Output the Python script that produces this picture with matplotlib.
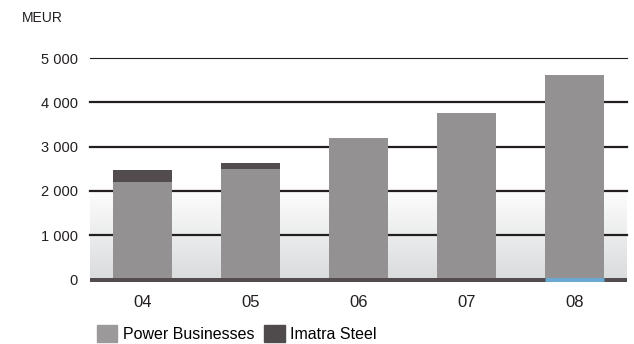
import matplotlib.pyplot as plt
import numpy as np
from matplotlib.patches import Patch
from matplotlib.colors import LinearSegmentedColormap

years = ['04', '05', '06', '07', '08']
power = [2205, 2500, 3200, 3767, 4627]
steel = [265, 136, 0, 0, 0]
yticks = [0, 1000, 2000, 3000, 4000, 5000]

c_power = '#939192'
c_steel = '#524c4e'
c_grid = '#231f20'
c_blue = '#6aa9d0'

plt.rcParams['font.family'] = ['Liberation Sans', 'DejaVu Sans']

fig = plt.figure(figsize=(6.34, 3.44), dpi=100)
ax = fig.add_axes([0.142, 0.1797, 0.847, 0.658])
x = np.arange(len(years))
w = 0.546
ax.set_xlim(-0.486, 4.486)
ax.set_ylim(-60, 5050)

# light grey gradient behind the lower part
grad = np.linspace(0, 1, 100).reshape(-1, 1)
cm = LinearSegmentedColormap.from_list('g', ['#dadbdd', '#ffffff'])
ax.imshow(grad, extent=(-0.486, 4.486, 0, 2130), origin='lower', aspect='auto',
          cmap=cm, zorder=0)

for v in yticks[1:]:
    ax.axhline(v, color=c_grid, lw=0.8 if v == 5000 else 1.6, zorder=1, clip_on=False)

ax.bar(x, power, width=w, color=c_power, zorder=2)
ax.bar(x, steel, width=w, bottom=power, color=c_steel, zorder=2)

ax.axhline(0, color=c_steel, lw=3.6, zorder=3)
ax.hlines(0, x[4] - w / 2, x[4] + w / 2, color=c_blue, lw=3.6, zorder=4)

ax.set_yticks(yticks)
ax.set_yticklabels([f'{v:,}'.replace(',', ' ') for v in yticks], fontsize=10.5, color='#231f20')
ax.set_xticks(x)
ax.set_xticklabels(years, fontsize=12, color='#231f20')
ax.tick_params(length=0)
ax.tick_params(axis='y', pad=9)
ax.tick_params(axis='x', pad=9)
for s in ax.spines.values():
    s.set_visible(False)

fig.text(22 / 634, 1 - 18 / 344, 'MEUR', fontsize=10, va='center', ha='left', color='#231f20')

handles = [Patch(color='#9c999b', label='Power Businesses'),
           Patch(color='#4f4a4c', label='Imatra Steel')]
fig.legend(handles=handles, loc='lower left', bbox_to_anchor=(95 / 634, 0.0), ncol=2,
           frameon=False, fontsize=11.5, handlelength=1.3, handleheight=1.3,
           handletextpad=0.35, columnspacing=0.6, borderpad=0.1, borderaxespad=0)

fig.savefig('out.png', dpi=100)
